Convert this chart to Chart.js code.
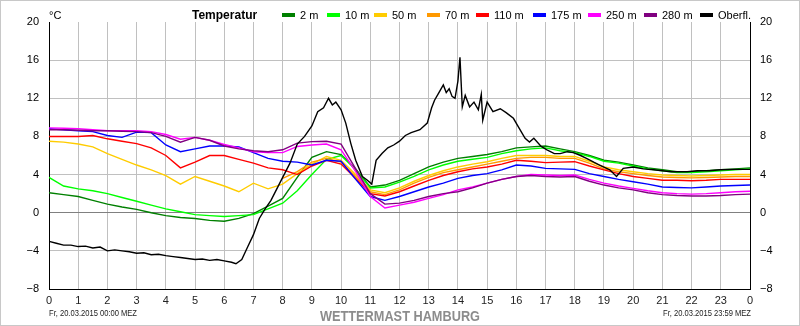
<!DOCTYPE html>
<html>
<head>
<meta charset="utf-8">
<script src="https://cdn.jsdelivr.net/npm/chart.js@4.4.0/dist/chart.umd.min.js"></script>
<style>
  html, body { margin: 0; padding: 0; background: #fff; }
  canvas { display: block; }
</style>
</head>
<body>
<canvas id="chart" width="800" height="326"></canvas>
<script>
const hours = Array.from({ length: 49 }, (_, i) => i * 0.5);

const t2m   = [2.1,1.9,1.7,1.3,0.9,0.6,0.35,0.0,-0.3,-0.5,-0.6,-0.8,-0.9,-0.6,-0.1,0.7,1.5,3.7,5.8,6.4,6.1,4.6,2.7,2.9,3.4,4.1,4.8,5.3,5.7,5.9,6.1,6.4,6.8,6.9,7.0,6.7,6.4,6.0,5.5,5.3,5.0,4.7,4.5,4.3,4.3,4.4,4.5,4.6,4.7];
const t10m  = [3.7,2.8,2.5,2.3,2.0,1.6,1.2,0.8,0.4,0.1,-0.2,-0.3,-0.4,-0.3,-0.2,0.4,1.0,2.3,4.0,5.6,6.0,4.5,2.6,2.7,3.2,3.8,4.5,5.0,5.4,5.6,5.8,6.2,6.5,6.7,6.8,6.5,6.3,5.9,5.4,5.2,4.9,4.6,4.4,4.2,4.2,4.3,4.4,4.5,4.6];
const t50m  = [7.5,7.4,7.2,6.9,6.2,5.6,5.0,4.5,3.9,3.0,3.8,3.3,2.8,2.2,3.1,2.5,3.0,4.1,5.1,5.9,5.5,4.0,2.4,2.1,2.6,3.3,3.9,4.4,4.8,5.1,5.35,5.7,6.0,6.0,6.0,5.9,5.9,5.4,4.8,4.5,4.3,4.1,3.95,3.9,3.85,3.9,3.95,4.0,4.0];
const t70m  = [null,null,null,null,null,null,null,null,null,null,null,null,null,null,null,null,3.6,4.3,5.3,5.7,5.3,3.8,2.2,1.9,2.4,3.1,3.7,4.2,4.5,4.8,5.1,5.4,5.7,5.8,5.8,5.7,5.7,5.2,4.6,4.3,4.1,3.9,3.75,3.7,3.65,3.7,3.75,3.8,3.8];
const t110m = [8.0,8.0,8.0,8.1,7.75,7.5,7.25,6.8,6.0,4.7,5.3,6.0,6.0,5.6,5.2,4.7,4.5,4.0,4.9,5.5,5.1,3.6,2.0,1.75,2.2,2.8,3.4,3.9,4.3,4.6,4.8,5.1,5.5,5.4,5.25,5.3,5.35,4.9,4.5,4.1,3.8,3.6,3.4,3.4,3.35,3.4,3.5,3.5,3.5];
const t175m = [8.8,8.7,8.6,8.5,8.1,7.9,8.45,8.4,7.1,6.4,6.7,7.0,7.0,6.9,6.3,5.7,5.4,5.3,5.0,5.5,5.4,3.5,1.7,1.3,1.7,2.2,2.7,3.1,3.6,3.9,4.1,4.5,5.0,4.9,4.65,4.6,4.55,4.1,3.8,3.5,3.25,3.0,2.7,2.65,2.6,2.7,2.8,2.85,2.9];
const t250m = [8.9,8.85,8.8,8.7,8.6,8.6,8.6,8.5,8.2,7.7,7.9,7.6,7.15,6.8,6.4,6.3,6.3,6.95,7.1,7.2,6.6,4.3,1.7,0.5,0.8,1.1,1.5,1.9,2.4,2.7,3.1,3.5,3.8,4.0,3.95,3.9,3.95,3.5,3.1,2.8,2.55,2.3,2.1,2.0,1.95,2.0,2.1,2.2,2.25];
const t280m = [8.7,8.7,8.65,8.6,8.6,8.55,8.5,8.4,8.0,7.4,7.9,7.6,7.0,6.7,6.5,6.4,6.6,7.3,7.45,7.5,7.2,4.6,2.0,0.9,1.0,1.3,1.7,2.0,2.2,2.6,3.1,3.5,3.8,3.9,3.8,3.75,3.8,3.3,2.9,2.6,2.4,2.1,1.9,1.8,1.75,1.75,1.8,1.9,1.95];

// Oberflaeche: eigene Zeitpunkte, weil die Kurve stark schwankt
const sfcHours = [0,0.25,0.5,0.75,1,1.25,1.5,1.75,2,2.25,2.5,2.75,3,3.25,3.5,3.75,4,4.25,4.5,4.75,5,5.25,5.5,5.75,6,6.25,6.4,6.6,6.8,7.0,7.2,7.4,7.6,7.9,8.25,8.5,8.75,9.0,9.2,9.4,9.57,9.7,9.82,10.0,10.16,10.33,10.5,10.73,10.9,11.05,11.2,11.4,11.6,11.8,12.0,12.2,12.4,12.7,12.95,13.1,13.2,13.35,13.5,13.6,13.7,13.8,13.9,14.0,14.07,14.15,14.25,14.4,14.55,14.7,14.8,14.85,15.0,15.2,15.45,15.65,15.9,16.05,16.3,16.45,16.6,16.85,17.05,17.3,17.5,17.75,17.95,18.2,18.4,18.65,18.85,19.2,19.43,19.66,20.0,20.35,20.7,21.0,21.3,21.6,21.85,22.2,22.6,23.0,23.5,24.0];
const sfcTemp  = [-3.0,-3.2,-3.4,-3.4,-3.55,-3.5,-3.7,-3.6,-4.0,-3.9,-4.0,-4.1,-4.25,-4.2,-4.4,-4.35,-4.5,-4.6,-4.7,-4.8,-4.9,-4.85,-5.0,-4.9,-5.05,-5.2,-5.35,-4.9,-3.6,-2.3,-0.6,0.4,1.3,3.1,5.2,7.2,8.0,9.1,10.6,11.0,12.0,11.3,11.6,10.8,9.4,7.3,5.5,3.8,3.4,3.0,5.5,6.2,6.8,7.1,7.5,8.1,8.4,8.7,9.4,11.0,11.8,12.6,13.4,12.6,13.0,12.2,12.0,13.8,16.3,11.1,12.3,11.1,11.6,10.8,12.4,9.7,11.6,10.6,10.9,10.5,9.9,9.1,7.8,7.4,7.8,6.95,6.6,6.2,6.2,6.4,6.3,6.0,5.7,5.3,5.0,4.5,3.8,4.65,4.8,4.6,4.5,4.4,4.3,4.3,4.3,4.4,4.4,4.5,4.55,4.55];

const seriesLabels = ['2 m', '10 m', '50 m', '70 m', '110 m', '175 m', '250 m', '280 m', 'Oberfl.'];
const seriesColors = ['#008000', '#00ff00', '#ffcc00', '#ff9900', '#ff0000', '#0000ff', '#ff00ff', '#800080', '#000000'];
const yTicks = [-8, -4, 0, 4, 8, 12, 16, 20];

const series = [t2m, t10m, t50m, t70m, t110m, t175m, t250m, t280m];

function points(xs, ys) {
    return xs.map((x, i) => ({ x: x, y: ys[i] }));
}

const datasets = series.map((arr, i) => ({
    label: seriesLabels[i],
    data: points(hours, arr),
    borderColor: seriesColors[i],
    borderWidth: 1.4,
    pointRadius: 0,
    tension: 0,
    order: 8 - i + 1
}));
datasets.push({
    label: seriesLabels[8],
    data: points(sfcHours, sfcTemp),
    borderColor: seriesColors[8],
    borderWidth: 1.4,
    pointRadius: 0,
    tension: 0,
    order: 0
});

const FONT = 'Arial, "Liberation Sans", sans-serif';

// Texte rund um das Diagramm (Legende, Kopf, Fusszeile)
const decorPlugin = {
    id: 'decor',
    afterDraw(chart) {
        const ctx = chart.ctx;
        ctx.save();
        ctx.strokeStyle = '#c8c8c8';
        ctx.lineWidth = 1;
        ctx.strokeRect(0.5, 0.5, 799, 325);

        ctx.fillStyle = '#000';
        ctx.textBaseline = 'middle';
        ctx.textAlign = 'left';
        ctx.font = '11px ' + FONT;
        ctx.fillText('°C', 49, 16);

        ctx.font = 'bold 12px ' + FONT;
        ctx.fillText('Temperatur', 192, 16);

        const textX = [300, 345, 392, 445, 494, 551, 606, 662, 718];
        ctx.font = '11px ' + FONT;
        seriesLabels.forEach((lab, i) => {
            ctx.fillStyle = seriesColors[i];
            ctx.fillRect(textX[i] - 18, 13, 13, 4);
            ctx.fillStyle = '#000';
            ctx.fillText(lab, textX[i], 16);
        });

        ctx.font = '8.5px ' + FONT;
        ctx.fillStyle = '#222';
        ctx.fillText('Fr, 20.03.2015 00:00 MEZ', 49, 314, 88);
        ctx.textAlign = 'right';
        ctx.fillText('Fr, 20.03.2015 23:59 MEZ', 751, 314, 88);

        ctx.textAlign = 'center';
        ctx.font = 'bold 15px ' + FONT;
        ctx.fillStyle = '#8c8c8c';
        ctx.fillText('WETTERMAST HAMBURG', 400, 317, 160);
        ctx.restore();
    }
};

const tickFmt = v => (v < 0 ? '\u2212' + Math.abs(v) : String(v));

new Chart(document.getElementById('chart').getContext('2d'), {
    type: 'line',
    data: { datasets: datasets },
    options: {
        responsive: false,
        animation: false,
        layout: { padding: { top: 22, left: 0, right: 0, bottom: 0 } },
        plugins: { legend: { display: false }, tooltip: { enabled: false } },
        scales: {
            x: {
                type: 'linear',
                min: 0,
                max: 24,
                ticks: {
                    stepSize: 1,
                    autoSkip: false,
                    maxRotation: 0,
                    padding: 5,
                    color: '#222',
                    font: { family: FONT, size: 11 },
                    callback: v => (v === 24 ? '0' : String(v))
                },
                grid: { color: '#c0c0c0', drawTicks: false },
                border: { color: '#000' },
                afterFit: s => { s.height = 37; }
            },
            y: {
                position: 'left',
                min: -8,
                max: 20,
                afterBuildTicks: s => { s.ticks = yTicks.map(v => ({ value: v })); },
                ticks: { padding: 10, color: '#000', font: { family: FONT, size: 11 }, callback: tickFmt },
                grid: {
                    drawTicks: false,
                    color: c => (c.tick.value === 0 ? '#808080' : (c.tick.value === 20 ? 'rgba(0,0,0,0)' : '#c0c0c0'))
                },
                border: { color: '#000' },
                afterFit: s => { s.width = 49; }
            },
            y2: {
                position: 'right',
                min: -8,
                max: 20,
                afterBuildTicks: s => { s.ticks = yTicks.map(v => ({ value: v })); },
                ticks: { padding: 10, color: '#000', font: { family: FONT, size: 11 }, callback: tickFmt },
                grid: { display: false, drawTicks: false },
                border: { color: '#000' },
                afterFit: s => { s.width = 50; }
            }
        }
    },
    plugins: [decorPlugin]
});
</script>
</body>
</html>
